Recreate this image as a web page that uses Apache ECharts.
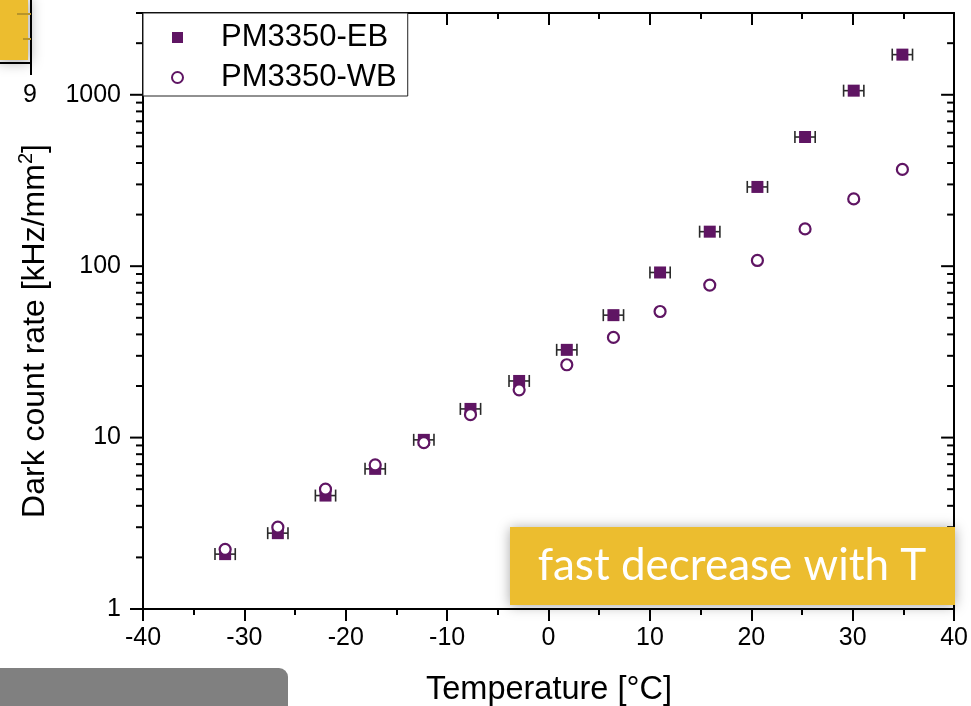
<!DOCTYPE html>
<html>
<head>
<meta charset="utf-8">
<script src="https://cdn.jsdelivr.net/npm/echarts@6/dist/echarts.min.js"></script>
<style>
  html, body { margin: 0; padding: 0; background: #ffffff; }
  #chart { width: 971px; height: 706px; }
</style>
</head>
<body>
<div id="chart"></div>
<script>
// Measured dark count rate versus temperature for two SiPM variants
const temperatures = [-31.9, -26.7, -22.0, -17.1, -12.3, -7.7, -2.9, 1.8, 6.4, 11.0, 15.9, 20.6, 25.3, 30.1, 34.9];
const rateEB = [2.09, 2.77, 4.59, 6.57, 9.70, 14.7, 21.4, 32.5, 51.8, 91.9, 159, 290, 567, 1057, 1715];
const rateWB = [2.23, 3.00, 5.00, 6.93, 9.35, 13.6, 19.0, 26.6, 38.4, 54.4, 77.6, 108, 165, 247, 367];
// Temperature uncertainty (±, °C) of the EB measurements
const tempErrEB = [1.0, 1.0, 1.0, 1.0, 1.0, 1.0, 1.0, 1.0, 1.0, 1.0, 1.0, 1.0, 1.0, 1.0, 1.0];

// Log-axis tick positions (Origin style: decades + 2..9 sub-ticks)
const yMajorTicks = [1, 10, 100, 1000];
const yMinorTicks = [2, 3, 4, 5, 6, 7, 8, 9,
                     20, 30, 40, 50, 60, 70, 80, 90,
                     200, 300, 400, 500, 600, 700, 800, 900,
                     2000, 3000];

const seriesNames = ['PM3350-EB', 'PM3350-WB'];
const PURPLE = '#5f1563';
const FONT = 'Liberation Sans, Arial, sans-serif';

const chart = echarts.init(document.getElementById('chart'), null, { renderer: 'canvas' });

// Ticks on the left (outward) and right (inward) frame edges
function logTicks(values, len) {
  return {
    type: 'custom',
    silent: true,
    clip: false,
    z: 3,
    data: values.map(v => [-40, v]),
    encode: { x: 0, y: 1 },
    renderItem(params, api) {
      const p = api.coord([api.value(0), api.value(1)]);
      const cs = params.coordSys;
      const xl = cs.x, xr = cs.x + cs.width;
      const st = { stroke: '#000', lineWidth: 2 };
      return {
        type: 'group',
        children: [
          { type: 'line', shape: { x1: xl - len, y1: p[1], x2: xl, y2: p[1] }, style: st },
          { type: 'line', shape: { x1: xr - len, y1: p[1], x2: xr, y2: p[1] }, style: st }
        ]
      };
    }
  };
}

const option = {
  animation: false,
  backgroundColor: '#ffffff',
  grid: { left: 143, right: 16, top: 13, bottom: 97, containLabel: false },
  xAxis: [
    {
      type: 'value', min: -40, max: 40, interval: 10, position: 'bottom',
      axisLine: { show: true, onZero: false, lineStyle: { color: '#000', width: 2 } },
      axisTick: { show: true, inside: false, length: 12, lineStyle: { color: '#000', width: 2 } },
      minorTick: { show: true, splitNumber: 2, length: 6, lineStyle: { color: '#000', width: 2 } },
      axisLabel: { fontSize: 25, fontFamily: FONT, color: '#000', margin: 17 },
      splitLine: { show: false }
    },
    {
      type: 'value', min: -40, max: 40, interval: 10, position: 'top',
      axisLine: { show: true, onZero: false, lineStyle: { color: '#000', width: 2 } },
      axisTick: { show: true, inside: true, length: 12, lineStyle: { color: '#000', width: 2 } },
      minorTick: { show: true, splitNumber: 2, length: 6, lineStyle: { color: '#000', width: 2 } },
      axisLabel: { show: false },
      splitLine: { show: false }
    }
  ],
  yAxis: [
    {
      type: 'log', logBase: 10, min: 1, max: 3000, position: 'left',
      axisLine: { show: true, onZero: false, lineStyle: { color: '#000', width: 2 } },
      axisTick: { show: false },
      axisLabel: {
        fontSize: 25, fontFamily: FONT, color: '#000', margin: 22, showMaxLabel: false,
        formatter: v => String(Math.round(v))
      },
      splitLine: { show: false }
    },
    {
      type: 'log', logBase: 10, min: 1, max: 3000, position: 'right',
      axisLine: { show: true, onZero: false, lineStyle: { color: '#000', width: 2 } },
      axisTick: { show: false },
      axisLabel: { show: false },
      splitLine: { show: false }
    }
  ],
  legend: {
    data: seriesNames,
    orient: 'vertical',
    left: 143, top: 13,
    padding: [9, 11, 3, 28],
    itemWidth: 11, itemHeight: 11, itemGap: 9,
    backgroundColor: '#ffffff',
    borderColor: '#222', borderWidth: 1,
    textStyle: { fontSize: 31, fontFamily: FONT, color: '#000', lineHeight: 30, padding: [0, 0, 0, 33] }
  },
  series: [
    logTicks(yMajorTicks, 13),
    logTicks(yMinorTicks, 7),
    {
      // horizontal temperature error bars
      type: 'custom',
      silent: true,
      clip: false,
      z: 1,
      data: temperatures.map((t, i) => [t, rateEB[i], tempErrEB[i]]),
      encode: { x: 0, y: 1 },
      renderItem(params, api) {
        const t = api.value(0), r = api.value(1), e = api.value(2);
        const a = api.coord([t - e, r]);
        const b = api.coord([t + e, r]);
        const h = 6;
        const st = { stroke: '#2a2a2a', lineWidth: 1.6 };
        return {
          type: 'group',
          children: [
            { type: 'line', shape: { x1: a[0], y1: a[1], x2: b[0], y2: b[1] }, style: st },
            { type: 'line', shape: { x1: a[0], y1: a[1] - h, x2: a[0], y2: a[1] + h }, style: st },
            { type: 'line', shape: { x1: b[0], y1: b[1] - h, x2: b[0], y2: b[1] + h }, style: st }
          ]
        };
      }
    },
    {
      name: seriesNames[0],
      type: 'scatter',
      symbol: 'rect',
      symbolSize: 12,
      z: 2,
      itemStyle: { color: PURPLE, opacity: 1 },
      data: temperatures.map((t, i) => [t, rateEB[i]])
    },
    {
      name: seriesNames[1],
      type: 'scatter',
      symbol: 'circle',
      symbolSize: 11,
      z: 2,
      itemStyle: { color: '#ffffff', borderColor: PURPLE, borderWidth: 2.2, opacity: 1 },
      data: temperatures.map((t, i) => [t, rateWB[i]])
    }
  ],
  graphic: [
    // axis titles
    {
      type: 'text', x: 549, y: 690, z: 10,
      style: { text: 'Temperature [°C]', fontSize: 32.5, fontFamily: FONT, fill: '#000', align: 'center', verticalAlign: 'middle' }
    },
    {
      type: 'text', x: 35, y: 331, rotation: Math.PI / 2, z: 10,
      style: {
        text: 'Dark count rate [kHz/mm{sup|2}]',
        fontSize: 32, fontFamily: FONT, fill: '#000', lineHeight: 38,
        align: 'center', verticalAlign: 'middle',
        rich: { sup: { fontSize: 20, fontFamily: FONT, fill: '#000', verticalAlign: 'top', lineHeight: 38 } }
      }
    },
    // corner of the neighbouring panel, top left
    { type: 'line', z: 5, shape: { x1: 31, y1: 0, x2: 31, y2: 75 }, style: { stroke: '#000', lineWidth: 2 } },
    { type: 'line', z: 5, shape: { x1: 0, y1: 63, x2: 31, y2: 63 }, style: { stroke: '#000', lineWidth: 2 } },
    {
      type: 'rect', z: 6, shape: { x: -4, y: -4, width: 32, height: 64 },
      style: { fill: '#ecbd2f', shadowBlur: 14, shadowColor: 'rgba(0,0,0,0.35)', shadowOffsetX: 2, shadowOffsetY: 2 }
    },
    { type: 'line', z: 7, shape: { x1: 17, y1: 14, x2: 31, y2: 14 }, style: { stroke: '#b8952a', lineWidth: 2 } },
    { type: 'line', z: 7, shape: { x1: 23, y1: 39, x2: 31, y2: 39 }, style: { stroke: '#b8952a', lineWidth: 2 } },
    {
      type: 'text', x: 30, y: 95, z: 7,
      style: { text: '9', fontSize: 25, fontFamily: FONT, fill: '#000', align: 'center', verticalAlign: 'middle' }
    },
    // grey tab, bottom left
    {
      type: 'rect', z: 6, shape: { x: -10, y: 668, width: 298, height: 60, r: [0, 9, 0, 0] },
      style: { fill: '#808080' }
    },
    // annotation banner
    {
      type: 'rect', z: 20, shape: { x: 510, y: 527, width: 445, height: 78 },
      style: { fill: '#ecbd2f', shadowBlur: 12, shadowColor: 'rgba(0,0,0,0.35)', shadowOffsetX: 0, shadowOffsetY: 1 }
    },
    {
      type: 'text', x: 732, y: 566, z: 21,
      style: { text: 'fast decrease with T', fontSize: 44, fontFamily: 'Lato, "Open Sans", sans-serif', fill: '#ffffff', align: 'center', verticalAlign: 'middle' }
    }
  ]
};

chart.setOption(option);
</script>
</body>
</html>
